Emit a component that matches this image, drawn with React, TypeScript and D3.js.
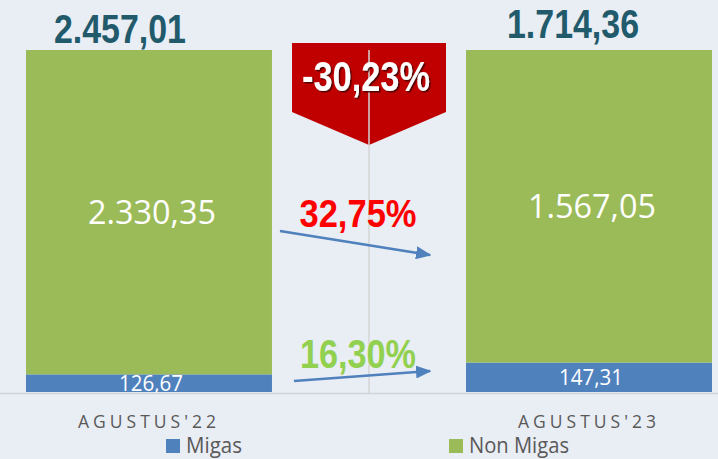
import * as d3 from "d3";
import React from "react";

const periods = ["AGUSTUS'22", "AGUSTUS'23"];
const migas = [126.67, 147.31];
const nonMigas = [2330.35, 1567.05];
const totals = [2457.01, 1714.36];
const migasLabels = ["126,67", "147,31"];
const nonMigasLabels = ["2.330,35", "1.567,05"];
const totalLabels = ["2.457,01", "1.714,36"];
const changeTotal = "-30,23%";
const changeNonMigas = "32,75%";
const changeMigas = "16,30%";
const seriesNames = ["Migas", "Non Migas"];

const W = 718;
const H = 459;
const BG = "#e9edf4";
const BLUE = "#4f81bd";
const GREEN = "#9bbb59";
const TEAL = "#215a6a";
const NARROW = "'Liberation Sans Narrow', 'Liberation Sans', Arial, sans-serif";
const SANS = "'Open Sans', 'Noto Sans', sans-serif";

export default function App() {
  const rows = periods.map((p, i) => ({ period: p, Migas: migas[i], "Non Migas": nonMigas[i] }));
  const stacked = d3.stack<any>().keys(seriesNames).offset(d3.stackOffsetExpand)(rows);

  const x = d3.scaleBand().domain(periods).range([26, 712]).paddingInner(0.441).paddingOuter(0);
  const y = d3.scaleLinear().domain([0, 1]).range([392, 50]);
  const color = d3.scaleOrdinal<string>().domain(seriesNames).range([BLUE, GREEN]);

  const bw = x.bandwidth();
  const gapMid = ((x(periods[0]) as number) + bw + (x(periods[1]) as number)) / 2;
  const gapL = (x(periods[0]) as number) + bw;
  const gapR = x(periods[1]) as number;

  // arrows across the gap
  const arrows = [
    { x1: gapL + 8, y1: 231, x2: gapR - 36, y2: 255 },
    { x1: gapL + 22, y1: 381, x2: gapR - 36, y2: 371 },
  ];

  const pent = [
    [gapMid - 77, 43],
    [gapMid + 77, 43],
    [gapMid + 77, 112],
    [gapMid, 145],
    [gapMid - 77, 112],
  ];

  return (
    <div>
      <style>{`body{margin:0}`}</style>
      <svg width={W} height={H} style={{ display: "block", background: BG }}>
        <defs>
          <filter id="sh" x="-10%" y="-10%" width="130%" height="140%">
            <feDropShadow dx="1.5" dy="1.5" stdDeviation="0.6" floodColor="#400000" floodOpacity="0.85" />
          </filter>
          <marker id="ah" viewBox="0 0 10 10" refX="9" refY="5" markerWidth="6" markerHeight="5" orient="auto" markerUnits="strokeWidth" preserveAspectRatio="none">
            <path d="M0,0 L10,5 L0,10 z" fill={BLUE} />
          </marker>
        </defs>

        {/* bars */}
        {stacked.map((s) => (
          <g key={s.key} fill={color(s.key)}>
            {s.map((d, i) => (
              <rect key={i} x={x(periods[i])} width={bw} y={y(d[1])} height={y(d[0]) - y(d[1])} />
            ))}
          </g>
        ))}

        {/* segment labels */}
        {stacked[1].map((d, i) => (
          <text key={"nm" + i} x={(x(periods[i]) as number) + bw / 2 + 3} y={(y(d[0]) + y(d[1])) / 2} dy="0.36em"
            textAnchor="middle" fill="#fff" fontFamily={SANS} fontSize={32} textLength={128} lengthAdjust="spacingAndGlyphs">
            {nonMigasLabels[i]}
          </text>
        ))}
        {stacked[0].map((d, i) => (
          <text key={"m" + i} x={(x(periods[i]) as number) + bw / 2 + 2} y={(y(d[0]) + y(d[1])) / 2} dy="0.38em"
            textAnchor="middle" fill="#fff" fontFamily={SANS} fontSize={21} textLength={64} lengthAdjust="spacingAndGlyphs">
            {migasLabels[i]}
          </text>
        ))}

        {/* baseline and divider */}
        <line x1={0} x2={W} y1={393.5} y2={393.5} stroke="#cfd3da" strokeWidth={1.5} />
        <line x1={gapMid} x2={gapMid} y1={50} y2={393} stroke="#d4d4d4" strokeWidth={1.5} />

        {/* totals */}
        {totals.map((t, i) => (
          <text key={"t" + i} x={(x(periods[i]) as number) + bw / 2 - 29 + i * 13} y={i === 0 ? 43 : 38}
            textAnchor="middle" fill={TEAL} fontFamily={NARROW} fontWeight="bold" fontSize={41} textLength={132} lengthAdjust="spacingAndGlyphs">
            {totalLabels[i]}
          </text>
        ))}

        {/* total change badge */}
        <polygon points={pent.map((p) => p.join(",")).join(" ")} fill="#c00000" />
        <line x1={gapMid} x2={gapMid} y1={50} y2={145} stroke="#d4d4d4" strokeWidth={1.5} />
        <text x={gapMid - 3} y={91} textAnchor="middle" fill="#fff" fontFamily={NARROW} fontWeight="bold" fontSize={42}
          textLength={128} lengthAdjust="spacingAndGlyphs" filter="url(#sh)">
          {changeTotal}
        </text>

        {/* arrows */}
        {arrows.map((a, i) => (
          <line key={"a" + i} x1={a.x1} y1={a.y1} x2={a.x2} y2={a.y2} stroke={BLUE} strokeWidth={2.6} markerEnd="url(#ah)" />
        ))}
        <text x={gapMid-11} y={227} textAnchor="middle" fill="#ff0000" fontFamily={NARROW} fontWeight="bold" fontSize={39}
          textLength={117} lengthAdjust="spacingAndGlyphs">
          {changeNonMigas}
        </text>
        <text x={gapMid-11} y={368} textAnchor="middle" fill="#92d050" fontFamily={NARROW} fontWeight="bold" fontSize={40}
          textLength={116} lengthAdjust="spacingAndGlyphs">
          {changeMigas}
        </text>

        {/* category labels */}
        {periods.map((p, i) => (
          <text key={p} x={(x(periods[i]) as number) + bw / 2 - 2} y={428} textAnchor="middle" fill="#595959"
            fontFamily={SANS} fontSize={17.5} textLength={138} lengthAdjust="spacing">
            {p}
          </text>
        ))}

        {/* legend */}
        {seriesNames.map((n, i) => {
          const lx = i === 0 ? 166 : 449;
          return (
            <g key={n}>
              <rect x={lx} y={439} width={14} height={14} fill={color(n)} />
              <text x={lx + 20} y={453} fill="#595959" fontFamily={SANS} fontSize={21}
                textLength={i === 0 ? 56 : 100} lengthAdjust="spacingAndGlyphs">
                {n}
              </text>
            </g>
          );
        })}
      </svg>
    </div>
  );
}
